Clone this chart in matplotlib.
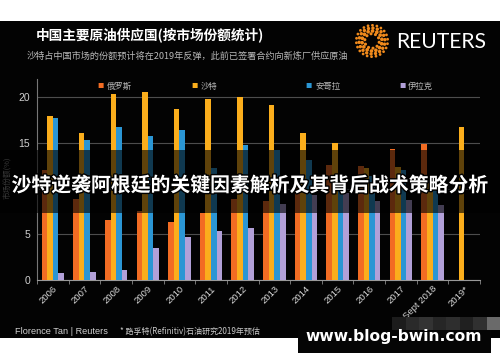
import numpy as np
import matplotlib
matplotlib.use("Agg")
import matplotlib.pyplot as plt
import matplotlib.patheffects as pe
from matplotlib.patches import Rectangle

plt.rcParams['font.family'] = ['Noto Sans CJK SC', 'DejaVu Sans']

# data (market share, %)
years = ["2006", "2007", "2008", "2009", "2010", "2011", "2012", "2013",
         "2014", "2015", "2016", "2017", "Sept 2018", "2019*"]
russia = [12.0, 8.9, 6.6, 7.5, 6.4, 7.3, 8.9, 8.6, 10.7, 12.6, 12.5, 14.3, 14.9, np.nan]
saudi = [18.0, 16.1, 20.4, 20.6, 18.7, 19.8, 20.0, 19.1, 16.1, 15.0, 12.3, 12.4, 11.5, 16.7]
angola = [17.7, 15.3, 16.7, 15.8, 16.4, 12.3, 14.8, 14.2, 13.1, 11.5, 11.4, 12.0, 10.4, np.nan]
iraq = [0.8, 0.9, 1.1, 3.5, 4.7, 5.4, 5.7, 8.3, 9.3, 9.5, 8.7, 8.8, 8.2, np.nan]
series_names = ["俄罗斯", "沙特", "安哥拉", "伊拉克"]
series_colors = ["#F26C23", "#FBAE1C", "#2B96D4", "#B2A0D8"]
yticks = [0, 5, 10, 15, 20]
ytick_labels = ["0", "5", "", "15", "20"]  # "10" sits under the headline band

W, H = 500, 362


def fx(px):
    return px / W


def fy(py):
    return 1 - py / H


fig = plt.figure(figsize=(5, 3.62), dpi=100, facecolor="white")

# black card background
fig.patches.append(Rectangle((0, fy(338)), 1, (338 - 21) / H, transform=fig.transFigure,
                             facecolor="#030303", edgecolor="none", zorder=-5))

ax = fig.add_axes([fx(37), fy(280), fx(480) - fx(37), (280 - 79) / H])
ax.set_facecolor("none")

x = np.arange(len(years))
w = 0.177
for k, vals in enumerate([russia, saudi, angola, iraq]):
    ax.bar(x + (k - 1.5) * w, vals, w, color=series_colors[k], zorder=3)

ax.set_xlim(-0.5, len(years) - 0.5)
ax.set_ylim(0, 22)
ax.set_yticks(yticks)
ax.set_yticklabels(ytick_labels, color="#d0d0d0", fontsize=7.5,
                   family="Liberation Sans")
ax.tick_params(axis="y", length=0, pad=5)
ax.grid(axis="y", color="#4d4d4d", lw=0.8, zorder=0)

ax.set_xticks(x)
ax.set_xticklabels(years, rotation=45, ha="right", rotation_mode="anchor",
                   color="#d8d8d8", fontsize=6.8, family="Liberation Sans")
ax.tick_params(axis="x", length=0, pad=3)
ax.set_xticks(np.arange(-0.5, len(years), 1), minor=True)
ax.tick_params(axis="x", which="minor", length=3, color="#888888")

for s in ["top", "right"]:
    ax.spines[s].set_visible(False)
ax.spines["left"].set_color("#777777")
ax.spines["bottom"].set_color("#999999")

# y axis label
fig.text(fx(8), fy(178), "市场份额(%)", rotation=90, color="#9a9a9a", fontsize=5.5,
         ha="center", va="center")

# legend
legend_x = [101, 195, 309, 402]
for lx, name, col in zip(legend_x, series_names, series_colors):
    fig.text(fx(lx), fy(86), "■", color=col, fontsize=4.5, ha="center", va="center")
    fig.text(fx(lx + 6), fy(86), name, color="#b8b8b8", fontsize=6, ha="left", va="center")

# title block
fig.text(fx(36), fy(35), "中国主要原油供应国(按市场份额统计)", color="white",
         fontsize=9.8, fontweight="bold", ha="left", va="center")
fig.text(fx(27), fy(56), "沙特占中国市场的份额预计将在2019年反弹，此前已签署合约向新炼厂供应原油",
         color="#b8b8b8", fontsize=6.6, ha="left", va="center")

# reuters logo
lax = fig.add_axes([fx(355), fy(58), 34 / W, 34 / H])
lax.set_xlim(-1.05, 1.05)
lax.set_ylim(-1.05, 1.05)
lax.axis("off")
for r, n, s in [(0.45, 10, 5), (0.62, 14, 7), (0.8, 18, 6), (0.97, 22, 4)]:
    t = np.linspace(0, 2 * np.pi, n, endpoint=False) + r
    lax.scatter(r * np.cos(t), r * np.sin(t), s=s, color="#F08A1C", edgecolors="none")
fig.text(fx(396), fy(42), "REUTERS", color="white", fontsize=15.2, family="Lato",
         ha="left", va="center")

# footer
fig.text(fx(15), fy(332), "Florence Tan | Reuters", color="#d0d0d0", fontsize=6.6,
         family="Liberation Sans", ha="left", va="center")
fig.text(fx(120), fy(332), "* 路孚特(Refinitiv)石油研究2019年预估", color="#c8c8c8",
         fontsize=5.8, ha="left", va="center")

# dark band with overlay headline
fig.patches.append(Rectangle((0, fy(213)), 1, (213 - 150) / H, transform=fig.transFigure,
                             facecolor="black", alpha=0.62, edgecolor="none", zorder=4))
fig.text(0.5, fy(185), "沙特逆袭阿根廷的关键因素解析及其背后战术策略分析", color="white",
         fontsize=14.3, fontweight="bold", ha="center", va="center", zorder=6,
         path_effects=[pe.withStroke(linewidth=2, foreground="black")])

# watermark
mosaic = ["#1c1c1c", "#2a2a2a", "#333333", "#262626", "#2e2e2e", "#202020", "#303030", "#6a6a6a"]
tw = (500 - 392) / len(mosaic)
for i, c in enumerate(mosaic):
    fig.patches.append(Rectangle((fx(392 + i * tw), fy(330)), tw / W, 13 / H,
                                 transform=fig.transFigure, facecolor=c,
                                 edgecolor="none", zorder=6))
fig.patches.append(Rectangle((fx(298), fy(353)), (491 - 298) / W, (353 - 330) / H,
                             transform=fig.transFigure, facecolor="#050505",
                             edgecolor="none", zorder=6))
fig.text(fx(394), fy(336), "www.blog-bwin.com", color="white", fontsize=11.2,
         fontweight="bold", family="DejaVu Sans", ha="center", va="center", zorder=7)

fig.savefig("out.png", dpi=100, facecolor="white")
